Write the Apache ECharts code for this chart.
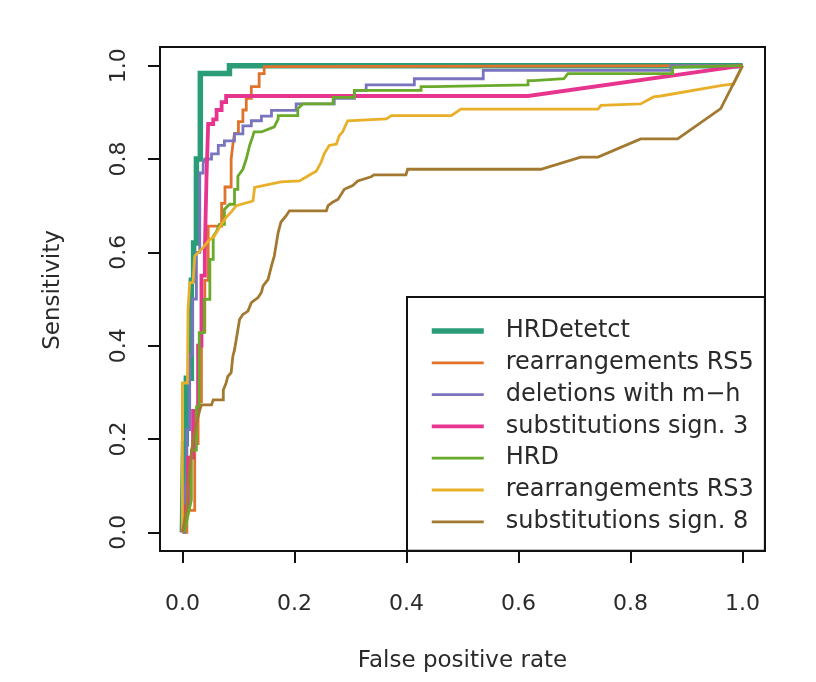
<!DOCTYPE html>
<html>
<head>
<meta charset="utf-8">
<script src="https://cdn.jsdelivr.net/npm/echarts@6/dist/echarts.min.js"></script>
<style>
html,body{margin:0;padding:0;background:#fff;}
#chart{width:816px;height:682px;}
</style>
</head>
<body>
<div id="chart"></div>
<script>
const seriesNames = ['HRDetetct', 'rearrangements RS5', 'deletions with m\u2212h', 'substitutions sign. 3', 'HRD', 'rearrangements RS3', 'substitutions sign. 8'];
const tickValues = [0, 0.2, 0.4, 0.6, 0.8, 1.0];

const hrdetect = [[0,0],[0.002,0.19],[0.007,0.19],[0.007,0.33],[0.016,0.33],[0.016,0.54],[0.02,0.54],[0.02,0.62],[0.025,0.62],[0.025,0.8],[0.032,0.8],[0.032,0.983],[0.084,0.983],[0.084,1],[1,1]];

const rs5 = [[0,0],[0.008,0],[0.008,0.047],[0.022,0.047],[0.022,0.19],[0.028,0.19],[0.028,0.28],[0.034,0.28],[0.034,0.43],[0.04,0.43],[0.04,0.54],[0.046,0.54],[0.046,0.656],[0.07,0.656],[0.07,0.705],[0.076,0.705],[0.076,0.74],[0.087,0.74],[0.087,0.8],[0.09,0.8],[0.09,0.83],[0.093,0.83],[0.093,0.855],[0.1,0.855],[0.1,0.88],[0.108,0.88],[0.108,0.905],[0.114,0.905],[0.114,0.93],[0.123,0.93],[0.123,0.955],[0.137,0.955],[0.137,0.983],[0.146,0.983],[0.146,0.998],[0.15,0.998],[0.15,1],[1,1]];

const delmh = [[0,0],[0.004,0],[0.004,0.1],[0.008,0.1],[0.008,0.22],[0.013,0.22],[0.013,0.38],[0.018,0.38],[0.018,0.5],[0.025,0.5],[0.025,0.6],[0.031,0.6],[0.031,0.77],[0.037,0.77],[0.037,0.79],[0.04,0.79],[0.04,0.8],[0.052,0.8],[0.052,0.811],[0.064,0.811],[0.064,0.829],[0.075,0.829],[0.075,0.839],[0.093,0.839],[0.093,0.854],[0.108,0.854],[0.108,0.871],[0.123,0.871],[0.123,0.882],[0.141,0.882],[0.141,0.892],[0.159,0.892],[0.159,0.904],[0.203,0.904],[0.203,0.918],[0.271,0.918],[0.271,0.93],[0.307,0.93],[0.307,0.947],[0.328,0.947],[0.328,0.959],[0.414,0.959],[0.414,0.972],[0.537,0.972],[0.537,0.99],[0.872,0.99],[0.872,1],[1,1]];

const sig3 = [[0,0],[0.002,0.054],[0.01,0.054],[0.01,0.16],[0.019,0.16],[0.019,0.26],[0.028,0.26],[0.028,0.4],[0.034,0.4],[0.034,0.55],[0.04,0.55],[0.04,0.6],[0.043,0.6],[0.043,0.76],[0.046,0.76],[0.046,0.875],[0.055,0.875],[0.055,0.885],[0.061,0.885],[0.061,0.905],[0.07,0.905],[0.07,0.922],[0.078,0.922],[0.078,0.935],[0.617,0.935],[1,1]];

const hrd = [[0,0],[0.004,0.004],[0.016,0.069],[0.016,0.176],[0.025,0.176],[0.025,0.269],[0.03,0.269],[0.03,0.428],[0.039,0.428],[0.039,0.499],[0.049,0.499],[0.049,0.585],[0.055,0.585],[0.055,0.634],[0.061,0.645],[0.066,0.66],[0.075,0.66],[0.075,0.692],[0.084,0.703],[0.093,0.703],[0.093,0.735],[0.099,0.735],[0.099,0.763],[0.108,0.778],[0.114,0.8],[0.12,0.829],[0.126,0.85],[0.128,0.858],[0.141,0.858],[0.164,0.869],[0.171,0.886],[0.171,0.893],[0.206,0.893],[0.206,0.908],[0.215,0.918],[0.269,0.918],[0.269,0.932],[0.307,0.932],[0.307,0.947],[0.426,0.947],[0.426,0.955],[0.449,0.955],[0.449,0.959],[0.617,0.959],[0.617,0.968],[0.627,0.968],[0.627,0.972],[0.681,0.972],[0.688,0.983],[0.875,0.983],[0.875,0.997],[1,1]];

const rs3 = [[0,0],[0,0.32],[0.009,0.32],[0.01,0.477],[0.013,0.535],[0.019,0.535],[0.022,0.592],[0.025,0.596],[0.037,0.61],[0.046,0.624],[0.057,0.635],[0.064,0.649],[0.07,0.66],[0.078,0.675],[0.087,0.686],[0.096,0.7],[0.126,0.71],[0.129,0.739],[0.176,0.751],[0.209,0.753],[0.23,0.768],[0.239,0.774],[0.248,0.794],[0.253,0.811],[0.262,0.829],[0.275,0.832],[0.28,0.85],[0.286,0.858],[0.295,0.882],[0.364,0.886],[0.373,0.893],[0.48,0.893],[0.497,0.907],[0.742,0.907],[0.747,0.915],[0.818,0.918],[0.841,0.933],[0.854,0.935],[0.961,0.957],[0.984,0.961],[1,1]];

const sig8 = [[0,0],[0.007,0.047],[0.013,0.14],[0.019,0.198],[0.025,0.234],[0.031,0.262],[0.034,0.273],[0.052,0.273],[0.055,0.284],[0.073,0.284],[0.073,0.305],[0.078,0.32],[0.081,0.334],[0.087,0.342],[0.09,0.377],[0.093,0.391],[0.099,0.434],[0.102,0.456],[0.108,0.467],[0.117,0.474],[0.123,0.492],[0.135,0.503],[0.141,0.514],[0.144,0.528],[0.153,0.542],[0.159,0.571],[0.164,0.592],[0.171,0.643],[0.176,0.665],[0.185,0.678],[0.191,0.689],[0.257,0.689],[0.26,0.7],[0.269,0.708],[0.278,0.714],[0.289,0.735],[0.304,0.743],[0.313,0.753],[0.337,0.762],[0.342,0.766],[0.399,0.766],[0.402,0.778],[0.64,0.778],[0.711,0.804],[0.742,0.804],[0.818,0.843],[0.884,0.843],[0.961,0.908],[1,1]];

const seriesData = [hrdetect, rs5, delmh, sig3, hrd, rs3, sig8];
const colors = ['#2a9d78', '#e0722c', '#7874bd', '#e7358f', '#6aaa2a', '#e8b028', '#a37830'];
const widths = [5.5, 2.8, 2.8, 3.8, 2.8, 2.8, 2.8];

const FONT = 'DejaVu Sans';
const chart = echarts.init(document.getElementById('chart'), null, {renderer: 'canvas'});

const axisCommon = {
  type: 'value',
  min: -0.04,
  max: 1.04,
  splitLine: {show: false},
  axisLine: {show: true, onZero: false, lineStyle: {color: '#111', width: 2}},
  axisTick: {show: true, inside: false, length: 12, customValues: tickValues, lineStyle: {color: '#111', width: 2}},
  nameLocation: 'middle'
};

chart.setOption({
  animation: false,
  backgroundColor: '#fff',
  grid: {left: 160, right: 51, top: 47, bottom: 131, show: true, borderColor: '#111', borderWidth: 2, containLabel: false},
  xAxis: Object.assign({}, axisCommon, {
    name: 'False positive rate',
    nameGap: 99,
    nameTextStyle: {fontFamily: FONT, fontSize: 23, color: '#2a2a2a'},
    axisLabel: {customValues: tickValues, margin: 42, fontFamily: FONT, fontSize: 22, color: '#2a2a2a',
      formatter: v => v.toFixed(1)}
  }),
  yAxis: Object.assign({}, axisCommon, {
    name: 'Sensitivity',
    nameGap: 95,
    nameTextStyle: {fontFamily: FONT, fontSize: 23, color: '#2a2a2a', padding: [0, 0, 0, 18]},
    axisLabel: {customValues: tickValues, margin: 30, rotate: 90, fontFamily: FONT, fontSize: 22, color: '#2a2a2a',
      formatter: v => v.toFixed(1)}
  }),
  legend: {
    orient: 'vertical',
    left: 407,
    top: 297,
    padding: [22, 11, 17, 22],
    itemWidth: 52,
    itemHeight: 24,
    itemGap: 7.8,
    borderColor: '#111',
    borderWidth: 2,
    backgroundColor: '#fff',
    itemStyle: {opacity: 0},
    lineStyle: {width: 'inherit'},
    data: seriesNames,
    textStyle: {fontFamily: FONT, fontSize: 24, color: '#2a2a2a', lineHeight: 24, padding: [0, 0, 0, 17]}
  },
  series: seriesNames.map((name, i) => ({
    name: name,
    type: 'line',
    data: seriesData[i],
    symbol: 'none',
    color: colors[i],
    lineStyle: {color: colors[i], width: widths[i], join: 'miter'},
    clip: true
  }))
});
</script>
</body>
</html>
